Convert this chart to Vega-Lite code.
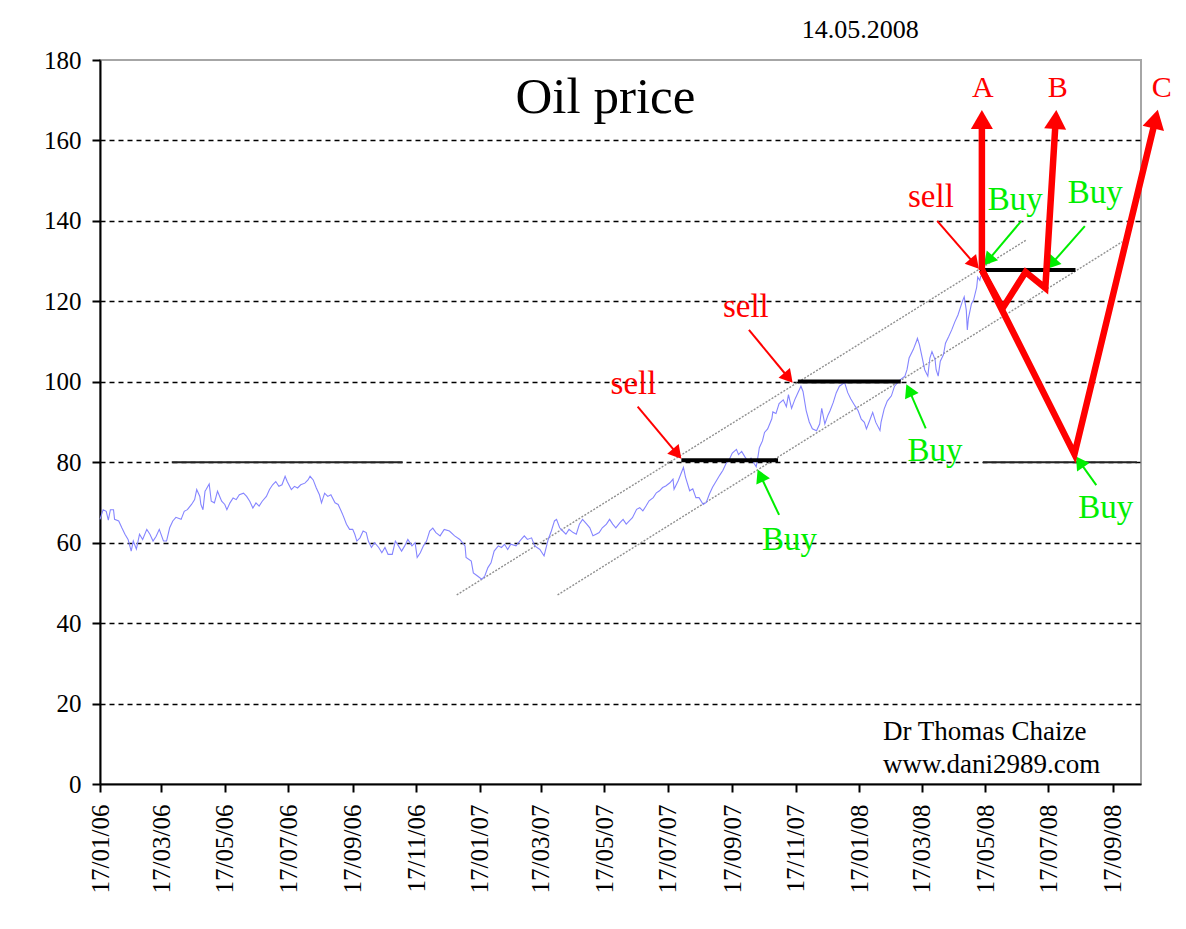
{
  "$schema": "https://vega.github.io/schema/vega-lite/v6.json",
  "autosize": "none",
  "width": 1041,
  "height": 724,
  "padding": {"left": 100, "top": 60, "right": 45, "bottom": 145},
  "background": "white",
  "config": {"view": {"stroke": "#a6a6a6", "strokeWidth": 2}},
  "datasets": {
    "price": [
      {"d":"2006-01-17","v":65.8},{"d":"2006-01-20","v":68.2},{"d":"2006-01-23","v":67.8},{"d":"2006-01-25","v":65.6},{"d":"2006-01-27","v":68.2},{"d":"2006-01-30","v":68.2},{"d":"2006-01-31","v":65.8},{"d":"2006-02-04","v":65.4},{"d":"2006-02-07","v":63.7},{"d":"2006-02-10","v":62.1},{"d":"2006-02-13","v":60.8},{"d":"2006-02-16","v":57.9},{"d":"2006-02-18","v":60.4},{"d":"2006-02-21","v":58.4},{"d":"2006-02-24","v":62.1},{"d":"2006-02-27","v":60.8},{"d":"2006-03-03","v":63.3},{"d":"2006-03-06","v":62.1},{"d":"2006-03-09","v":60.4},{"d":"2006-03-12","v":61.6},{"d":"2006-03-15","v":63.3},{"d":"2006-03-19","v":60.4},{"d":"2006-03-22","v":60.4},{"d":"2006-03-25","v":63.7},{"d":"2006-03-28","v":65.4},{"d":"2006-03-31","v":66.3},{"d":"2006-04-05","v":65.8},{"d":"2006-04-08","v":67.8},{"d":"2006-04-11","v":68.2},{"d":"2006-04-15","v":69.5},{"d":"2006-04-18","v":70.7},{"d":"2006-04-20","v":73.2},{"d":"2006-04-23","v":71.5},{"d":"2006-04-24","v":69.5},{"d":"2006-04-26","v":68.2},{"d":"2006-04-28","v":72.8},{"d":"2006-04-29","v":73.2},{"d":"2006-05-02","v":74.6},{"d":"2006-05-04","v":70.3},{"d":"2006-05-07","v":69.9},{"d":"2006-05-10","v":72.8},{"d":"2006-05-14","v":70.3},{"d":"2006-05-17","v":69.5},{"d":"2006-05-19","v":68.2},{"d":"2006-05-22","v":69.9},{"d":"2006-05-25","v":71.1},{"d":"2006-05-28","v":70.7},{"d":"2006-05-31","v":71.9},{"d":"2006-06-04","v":72.3},{"d":"2006-06-07","v":71.5},{"d":"2006-06-10","v":70.3},{"d":"2006-06-13","v":68.6},{"d":"2006-06-16","v":69.9},{"d":"2006-06-19","v":69.1},{"d":"2006-06-22","v":70.3},{"d":"2006-06-26","v":71.5},{"d":"2006-06-29","v":73.2},{"d":"2006-07-02","v":74.4},{"d":"2006-07-05","v":75.2},{"d":"2006-07-08","v":74.0},{"d":"2006-07-11","v":74.4},{"d":"2006-07-14","v":76.5},{"d":"2006-07-16","v":75.2},{"d":"2006-07-20","v":73.2},{"d":"2006-07-23","v":74.0},{"d":"2006-07-26","v":73.6},{"d":"2006-07-29","v":74.4},{"d":"2006-08-02","v":74.8},{"d":"2006-08-05","v":75.6},{"d":"2006-08-07","v":76.5},{"d":"2006-08-10","v":75.6},{"d":"2006-08-13","v":73.6},{"d":"2006-08-16","v":71.9},{"d":"2006-08-18","v":69.9},{"d":"2006-08-21","v":72.3},{"d":"2006-08-24","v":71.5},{"d":"2006-08-27","v":71.9},{"d":"2006-08-31","v":69.9},{"d":"2006-09-03","v":69.5},{"d":"2006-09-06","v":67.8},
      {"d":"2006-09-08","v":66.6},{"d":"2006-09-11","v":64.6},{"d":"2006-09-14","v":63.3},{"d":"2006-09-17","v":63.3},{"d":"2006-09-19","v":62.1},{"d":"2006-09-21","v":60.4},{"d":"2006-09-24","v":61.2},{"d":"2006-09-27","v":62.9},{"d":"2006-09-30","v":62.5},{"d":"2006-10-02","v":60.4},{"d":"2006-10-05","v":58.8},{"d":"2006-10-08","v":60.0},{"d":"2006-10-12","v":58.8},{"d":"2006-10-15","v":57.5},{"d":"2006-10-18","v":58.8},{"d":"2006-10-21","v":57.1},{"d":"2006-10-25","v":57.1},{"d":"2006-10-28","v":60.4},{"d":"2006-10-31","v":59.2},{"d":"2006-11-03","v":57.9},{"d":"2006-11-06","v":59.2},{"d":"2006-11-09","v":60.8},{"d":"2006-11-13","v":59.2},{"d":"2006-11-16","v":60.0},{"d":"2006-11-18","v":56.3},{"d":"2006-11-21","v":57.5},{"d":"2006-11-24","v":59.2},{"d":"2006-11-27","v":60.4},{"d":"2006-11-30","v":62.9},{"d":"2006-12-03","v":63.6},{"d":"2006-12-06","v":62.5},
      {"d":"2006-12-10","v":61.7},{"d":"2006-12-14","v":63.3},{"d":"2006-12-19","v":62.9},{"d":"2006-12-24","v":61.7},{"d":"2006-12-29","v":60.8},{"d":"2007-01-03","v":59.2},{"d":"2007-01-04","v":56.3},{"d":"2007-01-09","v":55.4},{"d":"2007-01-11","v":52.5},{"d":"2007-01-15","v":51.7},{"d":"2007-01-19","v":50.9},{"d":"2007-01-22","v":51.7},{"d":"2007-01-25","v":53.8},{"d":"2007-01-28","v":55.0},{"d":"2007-01-31","v":57.9},{"d":"2007-02-04","v":59.2},{"d":"2007-02-07","v":58.8},{"d":"2007-02-10","v":59.6},{"d":"2007-02-13","v":58.3},{"d":"2007-02-16","v":59.6},{"d":"2007-02-21","v":59.2},{"d":"2007-02-26","v":60.8},{"d":"2007-03-01","v":61.7},{"d":"2007-03-04","v":60.8},{"d":"2007-03-08","v":61.2},{"d":"2007-03-11","v":59.2},{"d":"2007-03-16","v":58.3},{"d":"2007-03-20","v":56.7},{"d":"2007-03-24","v":60.8},{"d":"2007-03-27","v":62.9},{"d":"2007-03-30","v":65.4},{"d":"2007-04-01","v":65.8},{"d":"2007-04-04","v":63.7},{"d":"2007-04-07","v":62.9},{"d":"2007-04-10","v":62.1},{"d":"2007-04-13","v":63.3},{"d":"2007-04-17","v":62.5},{"d":"2007-04-20","v":62.1},{"d":"2007-04-23","v":64.6},{"d":"2007-04-26","v":65.8},{"d":"2007-04-30","v":64.6},{"d":"2007-05-03","v":63.7},{"d":"2007-05-06","v":61.7},{"d":"2007-05-09","v":62.1},{"d":"2007-05-12","v":62.5},{"d":"2007-05-15","v":63.7},{"d":"2007-05-19","v":64.6},{"d":"2007-05-22","v":65.8},{"d":"2007-05-25","v":64.6},{"d":"2007-05-28","v":63.7},{"d":"2007-06-01","v":65.0},{"d":"2007-06-04","v":65.8},{"d":"2007-06-07","v":64.6},{"d":"2007-06-10","v":65.4},{"d":"2007-06-13","v":66.2},{"d":"2007-06-17","v":68.3},{"d":"2007-06-20","v":68.7},{"d":"2007-06-23","v":67.9},{"d":"2007-06-26","v":69.1},{"d":"2007-06-29","v":70.4},{"d":"2007-07-03","v":71.2},{"d":"2007-07-06","v":72.4},{"d":"2007-07-09","v":72.9},{"d":"2007-07-12","v":73.7},{"d":"2007-07-15","v":74.1},{"d":"2007-07-19","v":74.9},{"d":"2007-07-22","v":75.8},{"d":"2007-07-23","v":73.3},{"d":"2007-07-27","v":75.4},{"d":"2007-07-30","v":77.4},{"d":"2007-08-01","v":78.7},
      {"d":"2007-08-03","v":76.3},{"d":"2007-08-07","v":72.9},{"d":"2007-08-10","v":73.4},{"d":"2007-08-13","v":71.2},{"d":"2007-08-16","v":71.2},{"d":"2007-08-20","v":69.5},{"d":"2007-08-23","v":70.0},{"d":"2007-08-26","v":72.1},{"d":"2007-08-29","v":73.8},{"d":"2007-09-02","v":75.5},{"d":"2007-09-05","v":76.8},{"d":"2007-09-08","v":78.0},{"d":"2007-09-11","v":79.7},{"d":"2007-09-14","v":80.6},{"d":"2007-09-17","v":82.3},{"d":"2007-09-21","v":83.2},{"d":"2007-09-23","v":81.9},{"d":"2007-09-26","v":82.7},{"d":"2007-09-29","v":81.4},{"d":"2007-10-02","v":80.2},{"d":"2007-10-05","v":81.0},{"d":"2007-10-08","v":79.7},{"d":"2007-10-10","v":78.9},{"d":"2007-10-12","v":81.9},{"d":"2007-10-13","v":83.6},{"d":"2007-10-16","v":85.3},{"d":"2007-10-18","v":87.4},{"d":"2007-10-21","v":88.3},{"d":"2007-10-25","v":90.8},{"d":"2007-10-26","v":92.5},{"d":"2007-10-29","v":92.1},{"d":"2007-11-01","v":94.6},{"d":"2007-11-05","v":95.5},{"d":"2007-11-08","v":93.8},{"d":"2007-11-10","v":96.8},{"d":"2007-11-13","v":93.4},{"d":"2007-11-16","v":95.5},{"d":"2007-11-19","v":97.2},{"d":"2007-11-22","v":98.9},{"d":"2007-11-24","v":97.6},{"d":"2007-11-27","v":92.9},{"d":"2007-11-30","v":90.0},{"d":"2007-12-03","v":88.3},{"d":"2007-12-07","v":87.8},{"d":"2007-12-10","v":89.5},{"d":"2007-12-12","v":93.4},{"d":"2007-12-15","v":89.5},{"d":"2007-12-18","v":91.7},
      {"d":"2007-12-20","v":92.8},{"d":"2007-12-23","v":94.8},{"d":"2007-12-26","v":97.3},{"d":"2007-12-29","v":98.9},{"d":"2008-01-03","v":99.8},{"d":"2008-01-06","v":97.3},{"d":"2008-01-09","v":95.7},{"d":"2008-01-13","v":94.0},{"d":"2008-01-16","v":92.8},{"d":"2008-01-19","v":90.7},{"d":"2008-01-22","v":89.9},{"d":"2008-01-24","v":88.3},{"d":"2008-01-27","v":90.3},{"d":"2008-01-30","v":92.4},{"d":"2008-02-02","v":89.9},{"d":"2008-02-06","v":87.9},{"d":"2008-02-07","v":89.9},{"d":"2008-02-10","v":93.2},{"d":"2008-02-13","v":95.2},{"d":"2008-02-17","v":96.5},{"d":"2008-02-20","v":98.9},{"d":"2008-02-23","v":99.8},{"d":"2008-02-26","v":100.6},{"d":"2008-03-01","v":101.4},{"d":"2008-03-03","v":103.0},{"d":"2008-03-05","v":105.9},{"d":"2008-03-09","v":108.0},{"d":"2008-03-12","v":110.0},{"d":"2008-03-13","v":110.8},{"d":"2008-03-15","v":109.2},{"d":"2008-03-18","v":105.5},{"d":"2008-03-20","v":103.0},{"d":"2008-03-23","v":101.4},{"d":"2008-03-25","v":105.9},{"d":"2008-03-27","v":107.5},{"d":"2008-03-30","v":105.5},{"d":"2008-03-31","v":103.0},{"d":"2008-04-02","v":101.4},{"d":"2008-04-04","v":105.1},{"d":"2008-04-07","v":106.7},{"d":"2008-04-09","v":109.6},{"d":"2008-04-12","v":111.2},{"d":"2008-04-15","v":112.9},{"d":"2008-04-18","v":114.9},{"d":"2008-04-21","v":116.6},{"d":"2008-04-25","v":119.8},{"d":"2008-04-27","v":121.1},{"d":"2008-04-29","v":117.8},{"d":"2008-04-30","v":112.9},{"d":"2008-05-01","v":115.7},{"d":"2008-05-04","v":119.4},{"d":"2008-05-06","v":120.3},{"d":"2008-05-09","v":123.5},{"d":"2008-05-10","v":126.0},{"d":"2008-05-12","v":125.2},{"d":"2008-05-13","v":126.4}
    ],
    "channel": [
      {"id":"upper","d":"2006-12-26","v":47.0},{"id":"upper","d":"2008-06-26","v":135.3},
      {"id":"lower","d":"2007-04-02","v":47.0},{"id":"lower","d":"2008-09-26","v":134.8}
    ],
    "levels": [
      {"kind":"ref","d":"2006-03-27","d2":"2006-11-04","v":80},
      {"kind":"ref","d":"2008-05-15","d2":"2008-10-10","v":80},
      {"kind":"range","d":"2007-07-30","d2":"2007-10-31","v":80.5},
      {"kind":"range","d":"2007-11-19","d2":"2008-02-26","v":100.1},
      {"kind":"range","d":"2008-05-12","d2":"2008-08-12","v":127.8}
    ],
    "arrows": [
      {"id":"sell1","k":"sell","s":0,"d":"2007-06-18","v":93.8},{"id":"sell1","k":"sell","s":1,"d":"2007-07-26","v":82.1},
      {"id":"sell2","k":"sell","s":0,"d":"2007-10-03","v":112.9},{"id":"sell2","k":"sell","s":1,"d":"2007-11-10","v":101.0},
      {"id":"sell3","k":"sell","s":0,"d":"2008-04-01","v":140.0},{"id":"sell3","k":"sell","s":1,"d":"2008-05-07","v":129.3},
      {"id":"buy1","k":"buy","s":0,"d":"2007-11-01","v":66.9},{"id":"buy1","k":"buy","s":1,"d":"2007-10-14","v":76.7},
      {"id":"buy2","k":"buy","s":0,"d":"2008-03-21","v":88.4},{"id":"buy2","k":"buy","s":1,"d":"2008-03-05","v":97.9},
      {"id":"buy3","k":"buy","s":0,"d":"2008-09-01","v":74.3},{"id":"buy3","k":"buy","s":1,"d":"2008-08-16","v":80.1},
      {"id":"buy4","k":"buy","s":0,"d":"2008-06-21","v":140.0},{"id":"buy4","k":"buy","s":1,"d":"2008-05-20","v":130.2},
      {"id":"buy5","k":"buy","s":0,"d":"2008-08-21","v":138.7},{"id":"buy5","k":"buy","s":1,"d":"2008-07-20","v":129.3}
    ],
    "paths": [
      {"id":"A","s":0,"d":"2008-05-14","v":127.8},{"id":"A","s":1,"d":"2008-05-14","v":165.2},
      {"id":"B","s":0,"d":"2008-05-14","v":127.8},{"id":"B","s":1,"d":"2008-06-03","v":118.3},{"id":"B","s":2,"d":"2008-06-25","v":127.3},{"id":"B","s":3,"d":"2008-07-14","v":123.3},{"id":"B","s":4,"d":"2008-07-24","v":165.2},
      {"id":"C","s":0,"d":"2008-05-14","v":127.8},{"id":"C","s":1,"d":"2008-08-11","v":82.0},{"id":"C","s":2,"d":"2008-10-28","v":165.3}
    ],
    "labels": [
      {"k":"title","t":"Oil price","d":"2007-05-18","v":166.8},
      {"k":"date","t":"14.05.2008","d":"2008-01-18","v":185.4},
      {"k":"credit","t":"Dr Thomas Chaize","d":"2008-02-09","v":10.9},
      {"k":"credit","t":"www.dani2989.com","d":"2008-02-09","v":2.66},
      {"k":"sell","t":"sell","d":"2007-06-14","v":96.9},
      {"k":"sell","t":"sell","d":"2007-09-30","v":116.2},
      {"k":"sell","t":"sell","d":"2008-03-26","v":143.5},
      {"k":"buy","t":"Buy","d":"2007-11-11","v":58.2},
      {"k":"buy","t":"Buy","d":"2008-03-30","v":80.3},
      {"k":"buy","t":"Buy","d":"2008-09-10","v":66.1},
      {"k":"buy","t":"Buy","d":"2008-06-15","v":142.7},
      {"k":"buy","t":"Buy","d":"2008-08-31","v":144.4},
      {"k":"letter","t":"A","d":"2008-05-15","v":170.9},
      {"k":"letter","t":"B","d":"2008-07-26","v":170.9},
      {"k":"letter","t":"C","d":"2008-11-03","v":170.9}
    ]
  },
  "encoding": {
    "x": {
      "field": "d", "type": "temporal", "title": null,
      "scale": {"type": "utc", "domain": [{"year":2006,"month":1,"date":17,"utc":true},{"year":2008,"month":10,"date":14,"utc":true}]},
      "axis": {
        "values": [
          {"year":2006,"month":1,"date":17,"utc":true},{"year":2006,"month":3,"date":17,"utc":true},{"year":2006,"month":5,"date":17,"utc":true},{"year":2006,"month":7,"date":17,"utc":true},{"year":2006,"month":9,"date":17,"utc":true},{"year":2006,"month":11,"date":17,"utc":true},
          {"year":2007,"month":1,"date":17,"utc":true},{"year":2007,"month":3,"date":17,"utc":true},{"year":2007,"month":5,"date":17,"utc":true},{"year":2007,"month":7,"date":17,"utc":true},{"year":2007,"month":9,"date":17,"utc":true},{"year":2007,"month":11,"date":17,"utc":true},
          {"year":2008,"month":1,"date":17,"utc":true},{"year":2008,"month":3,"date":17,"utc":true},{"year":2008,"month":5,"date":17,"utc":true},{"year":2008,"month":7,"date":17,"utc":true},{"year":2008,"month":9,"date":17,"utc":true}
        ],
        "labelExpr": "utcFormat(datum.value, '%d/%m/%y')",
        "labelAngle": -90, "labelFont": "Liberation Serif", "labelFontSize": 25, "labelColor": "black",
        "labelPadding": 12, "labelOverlap": false, "labelFlush": false,
        "tickColor": "black", "tickSize": 8, "tickWidth": 2,
        "domainColor": "black", "domainWidth": 2, "grid": false
      }
    },
    "y": {
      "field": "v", "type": "quantitative", "title": null,
      "scale": {"domain": [0, 180], "nice": false, "zero": true},
      "axis": {
        "values": [0,20,40,60,80,100,120,140,160,180],
        "labelFont": "Liberation Serif", "labelFontSize": 25, "labelColor": "black", "labelPadding": 11,
        "tickColor": "black", "tickSize": 8, "tickWidth": 2,
        "domainColor": "black", "domainWidth": 2,
        "grid": true, "gridColor": "black", "gridDash": [5, 4], "gridWidth": 1.4,
        "gridOpacity": {"condition": {"test": "datum.value == 0 || datum.value == 180", "value": 0}, "value": 1}
      }
    }
  },
  "layer": [
    {"data": {"name": "channel"}, "mark": {"type": "line", "color": "#8f8f8f", "strokeWidth": 1.4, "strokeDash": [2, 1.5]}, "encoding": {"detail": {"field": "id"}}},
    {"data": {"name": "price"}, "mark": {"type": "line", "color": "#8585ff", "strokeWidth": 1.1}, "encoding": {}},
    {"data": {"name": "levels"}, "transform": [{"filter": "datum.kind == 'ref'"}], "mark": {"type": "rule", "color": "#222222", "strokeWidth": 2}, "encoding": {"x2": {"field": "d2"}}},
    {"data": {"name": "levels"}, "transform": [{"filter": "datum.kind == 'range'"}], "mark": {"type": "rule", "color": "black", "strokeWidth": 4}, "encoding": {"x2": {"field": "d2"}}},
    {"data": {"name": "arrows"}, "mark": {"type": "line", "strokeWidth": 2},
     "encoding": {"detail": {"field": "id"}, "order": {"field": "s"}, "color": {"field": "k", "type": "nominal", "scale": {"domain": ["sell", "buy"], "range": ["#ff0000", "#00ee00"]}, "legend": null}}},
    {"data": {"name": "arrows"}, "transform": [{"filter": "datum.s == 1 && datum.k == 'sell'"}], "mark": {"type": "point", "shape": "triangle-up", "filled": true, "opacity": 1, "color": "#ff0000", "size": 225, "angle": 139.5}, "encoding": {}},
    {"data": {"name": "arrows"}, "transform": [{"filter": "datum.s == 1 && (datum.id == 'buy1' || datum.id == 'buy2')"}], "mark": {"type": "point", "shape": "triangle-up", "filled": true, "opacity": 1, "color": "#00ee00", "size": 225, "angle": -25}, "encoding": {}},
    {"data": {"name": "arrows"}, "transform": [{"filter": "datum.s == 1 && datum.id == 'buy3'"}], "mark": {"type": "point", "shape": "triangle-up", "filled": true, "opacity": 1, "color": "#00ee00", "size": 225, "angle": -34}, "encoding": {}},
    {"data": {"name": "arrows"}, "transform": [{"filter": "datum.s == 1 && (datum.id == 'buy4' || datum.id == 'buy5')"}], "mark": {"type": "point", "shape": "triangle-up", "filled": true, "opacity": 1, "color": "#00ee00", "size": 225, "angle": -139}, "encoding": {}},
    {"data": {"name": "paths"}, "mark": {"type": "line", "color": "#ff0000", "strokeWidth": 6.5, "strokeJoin": "miter"}, "encoding": {"detail": {"field": "id"}, "order": {"field": "s"}}},
    {"data": {"name": "paths"}, "transform": [{"filter": "datum.id == 'A' && datum.s == 1"}], "mark": {"type": "point", "shape": "triangle-up", "filled": true, "opacity": 1, "color": "#ff0000", "size": 484, "angle": 0}, "encoding": {}},
    {"data": {"name": "paths"}, "transform": [{"filter": "datum.id == 'B' && datum.s == 4"}], "mark": {"type": "point", "shape": "triangle-up", "filled": true, "opacity": 1, "color": "#ff0000", "size": 484, "angle": 3.5}, "encoding": {}},
    {"data": {"name": "paths"}, "transform": [{"filter": "datum.id == 'C' && datum.s == 2"}], "mark": {"type": "point", "shape": "triangle-up", "filled": true, "opacity": 1, "color": "#ff0000", "size": 484, "angle": 13.6}, "encoding": {}},
    {"data": {"name": "labels"}, "transform": [{"filter": "datum.k == 'title'"}], "mark": {"type": "text", "font": "Liberation Serif", "fontSize": 51, "color": "black", "align": "center", "baseline": "alphabetic"}, "encoding": {"text": {"field": "t"}}},
    {"data": {"name": "labels"}, "transform": [{"filter": "datum.k == 'date'"}], "mark": {"type": "text", "font": "Liberation Serif", "fontSize": 26, "color": "black", "align": "center", "baseline": "alphabetic"}, "encoding": {"text": {"field": "t"}}},
    {"data": {"name": "labels"}, "transform": [{"filter": "datum.k == 'credit'"}], "mark": {"type": "text", "font": "Liberation Serif", "fontSize": 27, "color": "black", "align": "left", "baseline": "alphabetic"}, "encoding": {"text": {"field": "t"}}},
    {"data": {"name": "labels"}, "transform": [{"filter": "datum.k == 'sell'"}], "mark": {"type": "text", "font": "Liberation Serif", "fontSize": 33, "color": "#ff0000", "align": "center", "baseline": "alphabetic"}, "encoding": {"text": {"field": "t"}}},
    {"data": {"name": "labels"}, "transform": [{"filter": "datum.k == 'buy'"}], "mark": {"type": "text", "font": "Liberation Serif", "fontSize": 33, "color": "#00ee00", "align": "center", "baseline": "alphabetic"}, "encoding": {"text": {"field": "t"}}},
    {"data": {"name": "labels"}, "transform": [{"filter": "datum.k == 'letter'"}], "mark": {"type": "text", "font": "Liberation Serif", "fontSize": 30, "color": "#ff0000", "align": "center", "baseline": "alphabetic"}, "encoding": {"text": {"field": "t"}}}
  ]
}
